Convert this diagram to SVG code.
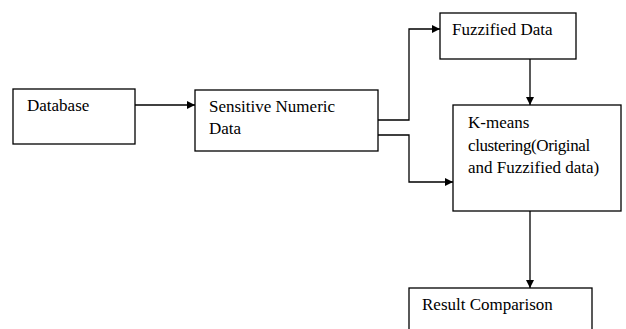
<svg xmlns="http://www.w3.org/2000/svg" width="626" height="329" viewBox="0 0 626 329">
  <style>
    .box { fill: #fff; stroke: #000; stroke-width: 1.3; }
    .wire { fill: none; stroke: #000; stroke-width: 1.3; }
  </style>
  <defs>
    <marker id="arrow" viewBox="0 0 10 10" refX="10" refY="5" markerWidth="8" markerHeight="8" markerUnits="userSpaceOnUse" orient="auto">
      <path d="M0,0 L10,5 L0,10 Z" fill="#000"/>
    </marker>
  </defs>
  <rect width="626" height="329" fill="#fff"/>

  <g id="connectors">
    <line class="wire" x1="135" y1="105" x2="195" y2="105" marker-end="url(#arrow)"/>
    <polyline class="wire" points="378,120 409,120 409,29 440,29" marker-end="url(#arrow)"/>
    <polyline class="wire" points="378,135 409,135 409,182 453,182" marker-end="url(#arrow)"/>
    <line class="wire" x1="530" y1="59" x2="530" y2="105" marker-end="url(#arrow)"/>
    <line class="wire" x1="530" y1="211" x2="530" y2="288" marker-end="url(#arrow)"/>
  </g>

  <g font-family="'Liberation Serif', 'DejaVu Serif', serif" font-size="17" fill="#000">
    <g id="database">
      <rect class="box" x="13" y="89" width="122" height="55"/>
      <text x="27" y="111">Database</text>
    </g>

    <g id="sensitive-data">
      <rect class="box" x="195" y="90" width="183" height="61"/>
      <text x="209" y="112">Sensitive Numeric</text>
      <text x="209" y="134">Data</text>
    </g>

    <g id="fuzzified-data">
      <rect class="box" x="440" y="13" width="136" height="46"/>
      <text x="452" y="35">Fuzzified Data</text>
    </g>

    <g id="kmeans">
      <rect class="box" x="453" y="105" width="168" height="106"/>
      <text x="468" y="128">K-means</text>
      <text x="468" y="151" letter-spacing="-0.4">clustering(Original</text>
      <text x="468" y="173">and Fuzzified data)</text>
    </g>

    <g id="result-comparison">
      <rect class="box" x="409" y="288" width="183" height="60"/>
      <text x="422" y="310">Result Comparison</text>
    </g>
  </g>
</svg>
